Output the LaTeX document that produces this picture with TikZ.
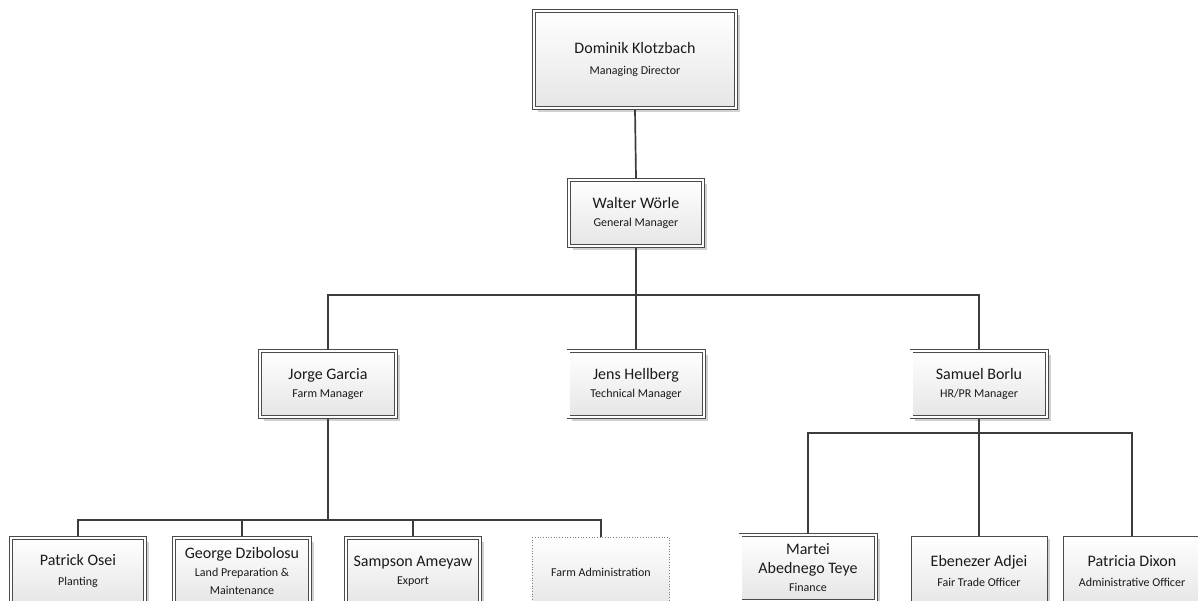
\documentclass[tikz,border=0pt]{standalone}
\usepackage{fontspec}
\setmainfont{Carlito}
\usetikzlibrary{shadows}
\definecolor{linec}{HTML}{3C3C3C}
\definecolor{framec}{HTML}{4A4A4A}
\definecolor{txt}{HTML}{1A1A1A}
\newcommand\pname[1]{{\fontsize{16}{18}\selectfont #1}}
\tikzset{
  base/.style={rectangle, top color=white, bottom color=black!10, text=txt,
    align=center, inner sep=0pt, font=\fontsize{12}{18}\selectfont},
  dbl/.style={base, draw=framec, line width=0.8pt, double=white,
    double distance=2.2pt, outer sep=1.9pt,
    drop shadow={shadow xshift=4pt, shadow yshift=-4pt, fill=black!18, opacity=1}},
  sgl/.style={base, draw=framec, line width=0.9pt, outer sep=0.45pt,
    drop shadow={shadow xshift=3pt, shadow yshift=-3pt, fill=black!18, opacity=1}},
  dot/.style={base, draw=black!50, dotted, line width=0.7pt, outer sep=0.35pt},
  dsize/.style 2 args={minimum width=#1pt-3.8pt, minimum height=#2pt-3.8pt},
  ssize/.style 2 args={minimum width=#1pt-0.9pt, minimum height=#2pt-0.9pt},
  conn/.style={draw=linec, line width=1.7pt}
}
\begin{document}
\begin{tikzpicture}[x=1pt, y=-1pt]
  \useasboundingbox[fill=white] (0,0) rectangle (1198,601);

  % management
  \node[dbl, dsize={206}{101}] (md) at (635,59.5)
    {\pname{Dominik Klotzbach}\\[3pt]Managing Director};
  \node[dbl, dsize={138}{70}] (gm) at (636,213)
    {\pname{Walter Wörle}\\General Manager};

  % department heads
  \node[dbl, dsize={140}{70}] (jg) at (328,384) {\pname{Jorge Garcia}\\Farm Manager};
  \node[dbl, dsize={139}{70}] (jh) at (636,384) {\pname{Jens Hellberg}\\Technical Manager};
  \node[dbl, dsize={139}{70}] (sb) at (979,384) {\pname{Samuel Borlu}\\HR/PR Manager};

  % farm staff
  \node[dbl, dsize={138}{70}] (po) at (78,571) {\pname{Patrick Osei}\\[2pt]Planting};
  \node[dbl, dsize={140}{70}] (gd) at (242,571)
    {\pname{George Dzibolosu}\\Land Preparation \&\\Maintenance};
  \node[dbl, dsize={138}{70}] (sa) at (413,571) {\pname{Sampson Ameyaw}\\Export};
  \node[dot, ssize={138}{70}] (fa) at (601,572) {Farm Administration};

  % HR/PR staff
  \node[dbl, dsize={139}{70}] (mt) at (808,568)
    {\pname{Martei}\\[1pt]\pname{Abednego Teye}\\Finance};
  \node[sgl, ssize={137}{70}] (ea) at (979,571) {\pname{Ebenezer Adjei}\\[2pt]Fair Trade Officer};
  \node[sgl, ssize={138}{70}] (pd) at (1132,571) {\pname{Patricia Dixon}\\[2pt]Administrative Officer};

  % bus levels
  \coordinate (bA) at (0,295);
  \coordinate (bB) at (0,520);
  \coordinate (bC) at (0,433);

  % connectors
  \draw[conn] (md.south) -- (gm.north);
  \draw[conn] (gm.south) -- (jh.north);
  \draw[conn] (jg.north) |- (gm.south |- bA) -| (sb.north);

  \draw[conn] (jg.south) -- (jg.south |- bB);
  \draw[conn] (po.north) |- (fa.north |- bB) -- (fa.north);
  \draw[conn] (gd.north) -- (gd.north |- bB);
  \draw[conn] (sa.north) -- (sa.north |- bB);

  \draw[conn] (sb.south) -- (sb.south |- bC);
  \draw[conn] (mt.north) |- (pd.north |- bC) -- (pd.north);
  \draw[conn] (ea.north) -- (ea.north |- bC);
\end{tikzpicture}
\end{document}
